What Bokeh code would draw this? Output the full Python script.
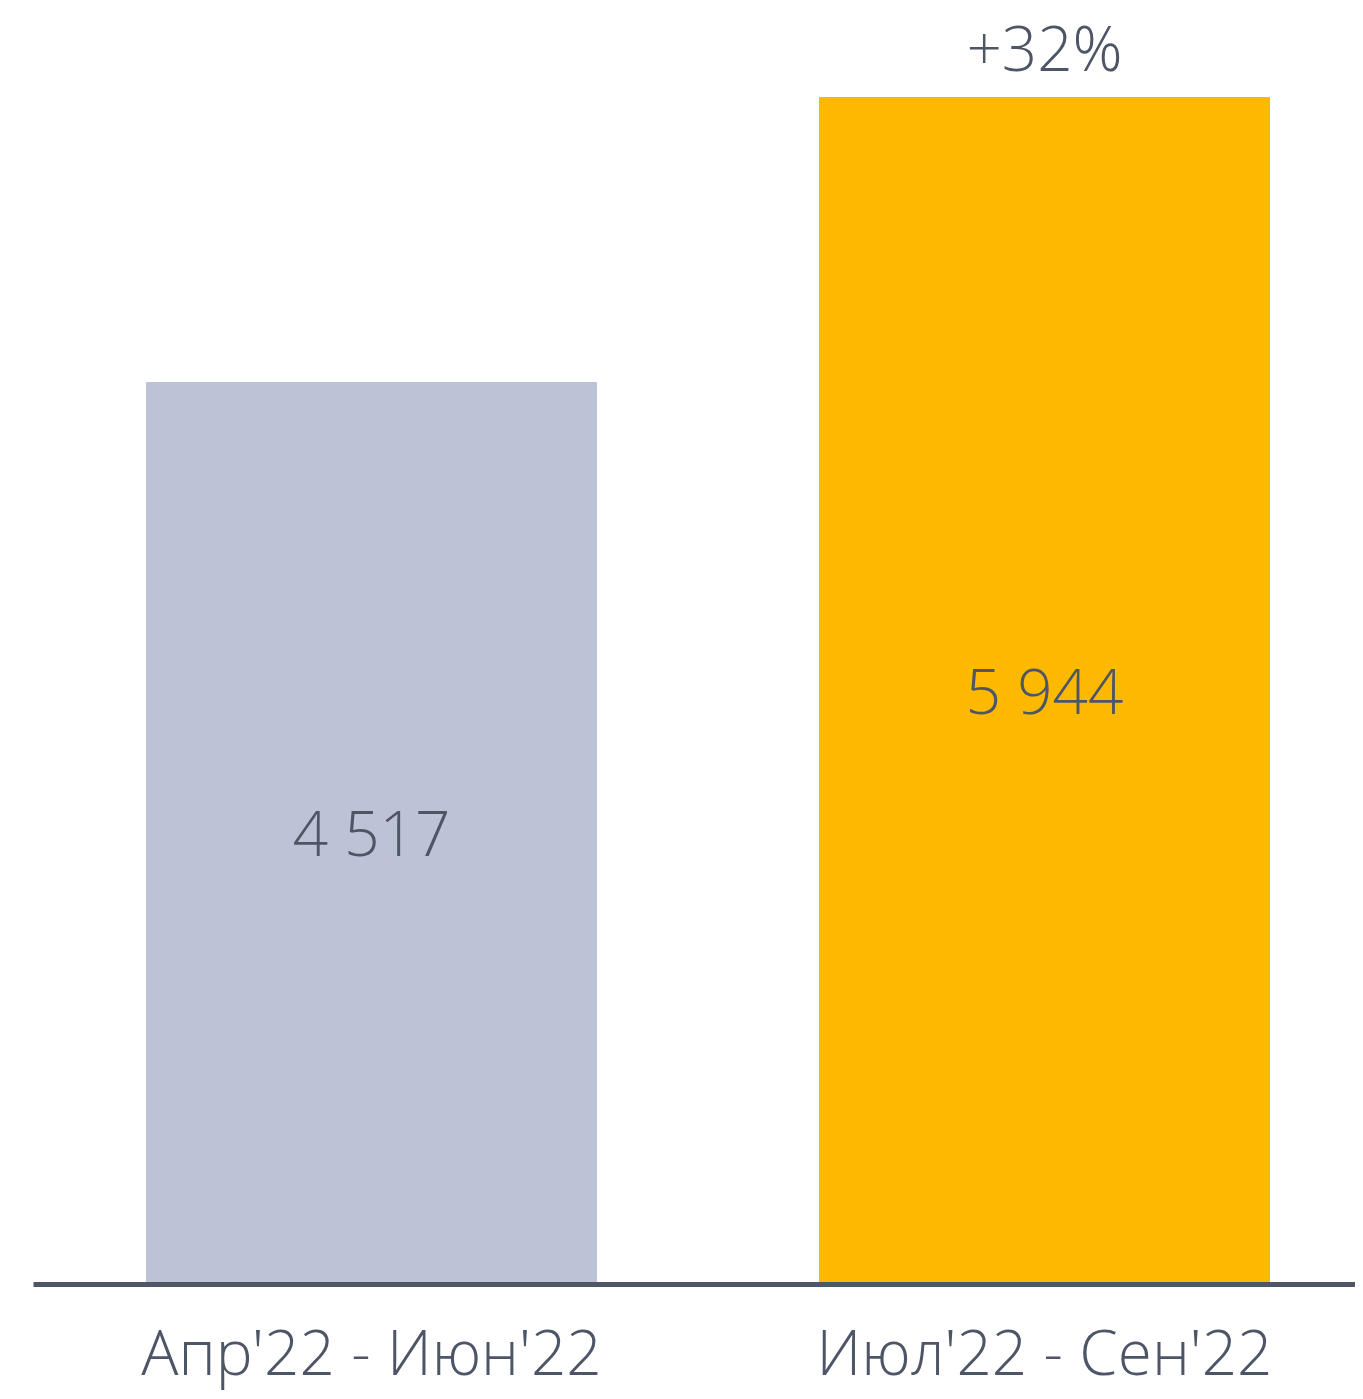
from bokeh.plotting import figure
from bokeh.models import Range1d, ColumnDataSource
from bokeh.core.properties import value
from bokeh.embed import file_html
from bokeh.resources import INLINE

categories = ["Апр'22 - Июн'22", "Июл'22 - Сен'22"]
values = [4517, 5944]
value_labels = ["4 517", "5 944"]
bar_colors = ["#BDC3D6", "#FDB900"]
growth_label = "+{:.0f}%".format((values[1] / values[0] - 1) * 100)

TEXT_COLOR = "#4D5566"
FONT = value("Open Sans Light")
FS = "62px"

W, H = 1355, 1391
BASE_PX = 1284          # pixel row of the zero line
px_per_x = 673.0
px_per_y = 1187.0 / values[1]
x_start = -(371 - 336.5) / px_per_x
x_end = x_start + W / px_per_x
y_end = BASE_PX / px_per_y
y_start = -(H - BASE_PX) / px_per_y

p = figure(width=W, height=H, output_backend="svg", toolbar_location=None,
           x_range=Range1d(x_start, x_end), y_range=Range1d(y_start, y_end),
           min_border_left=0, min_border_right=0, min_border_top=0, min_border_bottom=0)
p.xaxis.visible = False
p.yaxis.visible = False
p.xgrid.visible = False
p.ygrid.visible = False
p.outline_line_color = None
p.background_fill_color = "white"
p.border_fill_color = "white"

xs = [i + 0.5 for i in range(len(categories))]
src = ColumnDataSource(dict(x=xs, top=values, color=bar_colors, label=value_labels,
                            mid=[v / 2 for v in values], cat=categories))

p.vbar(x="x", top="top", bottom=0, width=450 / px_per_x, color="color", source=src)

# baseline
line_x0 = x_start + 33 / px_per_x
p.segment(x0=[line_x0], y0=[0], x1=[x_end], y1=[0], line_color="#4F5666", line_width=5)

p.text(x="x", y="mid", text="label", source=src, text_align="center",
       text_baseline="alphabetic", y_offset=-1, text_font=FONT,
       text_font_size=FS, text_color=TEXT_COLOR)

p.text(x=[xs[1]], y=[values[1]], text=[growth_label], text_align="center",
       text_baseline="alphabetic", y_offset=-51, text_font=FONT,
       text_font_size=FS, text_color=TEXT_COLOR)

p.text(x="x", y=0, text="cat", source=src, text_align="center",
       text_baseline="alphabetic", y_offset=66, text_font=FONT,
       text_font_size=FS, text_color=TEXT_COLOR)

open("out.html", "w").write(file_html(p, INLINE))
